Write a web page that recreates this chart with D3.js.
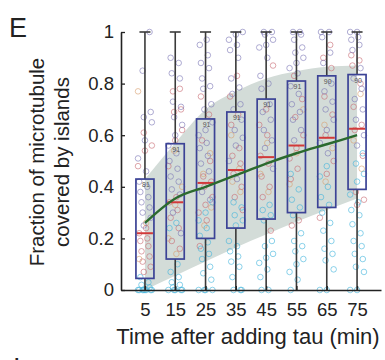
<!DOCTYPE html>
<html>
<head>
<meta charset="utf-8">
<script src="https://cdn.jsdelivr.net/npm/d3@7"></script>
<style>
  html, body { margin: 0; padding: 0; background: #fff; }
  svg { display: block; font-family: "Liberation Sans", Arial, sans-serif; }
</style>
</head>
<body>
<svg id="chart" width="385" height="360"></svg>
<script>
// ---------------- data ----------------
const times = [5, 15, 25, 35, 45, 55, 65, 75];
const yTicks = [0, 0.2, 0.4, 0.6, 0.8, 1];
const yTickLabels = ["0", "0.2", "0.4", "0.6", "0.8", "1"];

const q1 = [0.045, 0.12, 0.20, 0.24, 0.275, 0.30, 0.32, 0.39];
const median = [0.22, 0.34, 0.415, 0.465, 0.515, 0.56, 0.59, 0.625];
const q3 = [0.43, 0.567, 0.663, 0.69, 0.74, 0.81, 0.83, 0.835];
const whiskerLow = [0, 0, 0, 0, 0, 0, 0, 0];
const whiskerHigh = [1, 1, 1, 1, 1, 1, 1, 1];
const counts = ["81", "91", "91", "91", "91", "91", "90", "90"];

const meanCurve = [0.26, 0.355, 0.40, 0.445, 0.49, 0.53, 0.565, 0.60];
const bandUpper = [0.43, 0.57, 0.70, 0.77, 0.82, 0.848, 0.865, 0.87];
const bandLower = [0.0, 0.055, 0.11, 0.165, 0.215, 0.265, 0.31, 0.355];

const purplePts = [
  [1.0, 0.85, 0.69, 0.67, 0.65, 0.58, 0.51, 0.46, 0.42, 0.40, 0.38, 0.36, 0.34, 0.32, 0.30, 0.28, 0.25],
  [0.90, 0.88, 0.84, 0.82, 0.73, 0.71, 0.67, 0.64, 0.60, 0.56, 0.53, 0.50, 0.47, 0.44, 0.42, 0.39, 0.37, 0.30, 0.22],
  [0.97, 0.95, 0.91, 0.88, 0.86, 0.82, 0.79, 0.78, 0.72, 0.70, 0.65, 0.62, 0.60, 0.57, 0.55, 0.52, 0.49, 0.46, 0.38, 0.35],
  [1.0, 0.99, 0.97, 0.95, 0.93, 0.90, 0.82, 0.785, 0.76, 0.72, 0.70, 0.66, 0.62, 0.59, 0.56, 0.50, 0.43],
  [1.0, 1.0, 0.99, 0.97, 0.95, 0.94, 0.90, 0.83, 0.80, 0.78, 0.72, 0.69, 0.66, 0.62, 0.58, 0.55, 0.47],
  [1.0, 1.0, 0.99, 0.97, 0.94, 0.92, 0.90, 0.88, 0.86, 0.84, 0.79, 0.76, 0.72, 0.69, 0.66, 0.62, 0.58],
  [1.0, 1.0, 0.98, 0.92, 0.88, 0.80, 0.77, 0.73, 0.70, 0.66, 0.62, 0.57, 0.53],
  [1.0, 1.0, 0.98, 0.97, 0.95, 0.93, 0.86, 0.82, 0.78, 0.74, 0.70, 0.66, 0.60, 0.56]
];
const redPts = [
  [0.61, 0.56, 0.54, 0.48, 0.24, 0.22, 0.20, 0.19, 0.17, 0.15, 0.13, 0.11, 0.09, 0.07],
  [0.78, 0.77, 0.70, 0.69, 0.62, 0.58, 0.48, 0.36, 0.34, 0.31, 0.28, 0.24, 0.19, 0.16],
  [0.75, 0.68, 0.58, 0.50, 0.44, 0.42, 0.40, 0.36, 0.33, 0.30, 0.27, 0.17],
  [0.83, 0.75, 0.68, 0.64, 0.55, 0.52, 0.49, 0.45, 0.40, 0.36, 0.31],
  [0.87, 0.70, 0.64, 0.60, 0.52, 0.49, 0.44, 0.40, 0.36, 0.23],
  [0.83, 0.74, 0.67, 0.60, 0.55, 0.51, 0.47, 0.43, 0.27, 0.25],
  [0.95, 0.90, 0.86, 0.75, 0.68, 0.60, 0.50, 0.45, 0.28],
  [0.91, 0.89, 0.87, 0.80, 0.71, 0.64, 0.62, 0.52, 0.38, 0.35, 0.33]
];
const orangePts = [
  [0.77, 0.26, 0.12],
  [0.54, 0.40, 0.33, 0.20, 0.14],
  [0.53, 0.45, 0.32, 0.25],
  [0.60, 0.47, 0.42, 0.38],
  [0.57, 0.45, 0.38],
  [0.70, 0.53, 0.41],
  [0.64, 0.55, 0.42],
  [0.76, 0.58, 0.47]
];
const cyanPts = [
  [0.05, 0.03, 0.02, 0.01, 0, 0, 0, 0, 0, 0, 0, 0],
  [0.26, 0.24, 0.10, 0.07, 0.05, 0.03, 0.02, 0.01, 0, 0, 0, 0, 0],
  [0.34, 0.30, 0.27, 0.24, 0.21, 0.185, 0.16, 0.14, 0.12, 0.09, 0.065, 0.04, 0, 0, 0, 0],
  [0.34, 0.32, 0.29, 0.27, 0.25, 0.19, 0.17, 0.15, 0.13, 0.11, 0.09, 0.05, 0, 0, 0],
  [0.33, 0.31, 0.29, 0.27, 0.19, 0.17, 0.14, 0.125, 0.105, 0.08, 0.05, 0, 0],
  [0.45, 0.39, 0.35, 0.32, 0.29, 0.22, 0.19, 0.17, 0.15, 0.12, 0.10, 0.07, 0.04, 0],
  [0.48, 0.44, 0.40, 0.36, 0.33, 0.30, 0.26, 0.23, 0.19, 0.16, 0.14, 0.115, 0.08, 0, 0],
  [0.53, 0.49, 0.45, 0.42, 0.37, 0.34, 0.31, 0.29, 0.255, 0.22, 0.19, 0.17, 0.14, 0.12, 0.09, 0.07, 0, 0]
];

// ---------------- drawing ----------------
const svg = d3.select("#chart");
const x = d3.scaleLinear().domain([-2.9, 82.9]).range([121, 381]);
const y = d3.scaleLinear().domain([0, 1]).range([290, 32]);
const boxW = 18;

// shaded band
const area = d3.area()
  .x((d, i) => x(times[i]))
  .y0((d, i) => y(bandLower[i]))
  .y1((d, i) => y(bandUpper[i]))
  .curve(d3.curveMonotoneX);
svg.append("path").datum(times).attr("d", area)
  .attr("fill", "#d3dcd8");

// scatter points
const groups = [
  { pts: orangePts, color: "#d9a06e" },
  { pts: redPts, color: "#c76a72" },
  { pts: purplePts, color: "#7b76b5" },
  { pts: cyanPts, color: "#3fb3dc" }
];
const jitter = (i, k) => (((i * 7 + k * 5) % 13) - 6) * 1.15;
groups.forEach((g, k) => {
  times.forEach((t, gi) => {
    svg.append("g").selectAll("circle")
      .data(g.pts[gi])
      .join("circle")
      .attr("cx", (d, i) => x(t) + jitter(i, k + gi))
      .attr("cy", d => y(d))
      .attr("r", 2.8)
      .attr("fill", "none")
      .attr("stroke", g.color)
      .attr("stroke-width", 0.8)
      .attr("stroke-opacity", 0.75);
  });
});

// whiskers
const wg = svg.append("g");
times.forEach((t, i) => {
  wg.append("line").attr("x1", x(t)).attr("x2", x(t))
    .attr("y1", y(q3[i])).attr("y2", y(whiskerHigh[i]))
    .attr("stroke", "#3a3a3a").attr("stroke-width", 1.6);
  wg.append("line").attr("x1", x(t)).attr("x2", x(t))
    .attr("y1", y(q1[i])).attr("y2", y(whiskerLow[i]))
    .attr("stroke", "#3a3a3a").attr("stroke-width", 1.6);
  wg.append("line").attr("x1", x(t) - 5.5).attr("x2", x(t) + 5.5)
    .attr("y1", y(whiskerHigh[i])).attr("y2", y(whiskerHigh[i]))
    .attr("stroke", "#3a3a3a").attr("stroke-width", 1.6);
});

// boxes
svg.append("g").selectAll("rect")
  .data(times)
  .join("rect")
  .attr("x", d => x(d) - boxW / 2)
  .attr("width", boxW)
  .attr("y", (d, i) => y(q3[i]))
  .attr("height", (d, i) => y(q1[i]) - y(q3[i]))
  .attr("fill", "none")
  .attr("stroke", "#3c4396")
  .attr("stroke-width", 1.7);

// medians
svg.append("g").selectAll("line")
  .data(times)
  .join("line")
  .attr("x1", d => x(d) - boxW / 2 + 1)
  .attr("x2", d => x(d) + boxW / 2 - 1)
  .attr("y1", (d, i) => y(median[i]))
  .attr("y2", (d, i) => y(median[i]))
  .attr("stroke", "#d23a3a")
  .attr("stroke-width", 2);

// count labels
svg.append("g").selectAll("text")
  .data(times)
  .join("text")
  .attr("x", d => x(d) + 1)
  .attr("y", (d, i) => y(q3[i]) + 8)
  .attr("text-anchor", "middle")
  .attr("font-size", 7)
  .attr("fill", "#555")
  .text((d, i) => counts[i]);

// mean curve
const line = d3.line()
  .x((d, i) => x(times[i]))
  .y(d => y(d))
  .curve(d3.curveMonotoneX);
svg.append("path").datum(meanCurve).attr("d", line)
  .attr("fill", "none").attr("stroke", "#2b6a2e").attr("stroke-width", 2.4);

// axes
const yAxis = d3.axisLeft(y).tickValues(yTicks)
  .tickFormat((d, i) => yTickLabels[i])
  .tickSizeInner(-4).tickSizeOuter(0).tickPadding(7);
const yg = svg.append("g").attr("transform", `translate(${x(-2.9)},0)`).call(yAxis);
const xAxis = d3.axisBottom(x).tickValues(times)
  .tickSizeInner(-4).tickSizeOuter(0).tickPadding(13);
const xg = svg.append("g").attr("transform", `translate(0,${y(0)})`).call(xAxis);
[yg, xg].forEach(g => {
  g.select(".domain").attr("stroke", "#222").attr("stroke-width", 1.6);
  g.selectAll(".tick line").attr("stroke", "#222").attr("stroke-width", 1.3);
  g.selectAll(".tick text").attr("font-size", 18.5).attr("fill", "#222")
    .attr("font-family", "Liberation Sans, Arial, sans-serif");
});

// axis titles
svg.append("text")
  .attr("transform", "translate(36,162) rotate(-90)")
  .attr("text-anchor", "middle").attr("dominant-baseline", "central")
  .attr("font-size", 20.5).attr("fill", "#222")
  .text("Fraction of microtubule");
svg.append("text")
  .attr("transform", "translate(61,162) rotate(-90)")
  .attr("text-anchor", "middle").attr("dominant-baseline", "central")
  .attr("font-size", 20.5).attr("fill", "#222")
  .text("covered by islands");
svg.append("text")
  .attr("x", 248).attr("y", 344)
  .attr("text-anchor", "middle")
  .attr("font-size", 22).attr("fill", "#222")
  .text("Time after adding tau (min)");

// panel letters
svg.append("text").attr("x", 9).attr("y", 37)
  .attr("font-size", 27).attr("fill", "#222").text("E");
svg.append("text").attr("x", 13).attr("y", 377)
  .attr("font-size", 27).attr("fill", "#222").text("I");
</script>
</body>
</html>
